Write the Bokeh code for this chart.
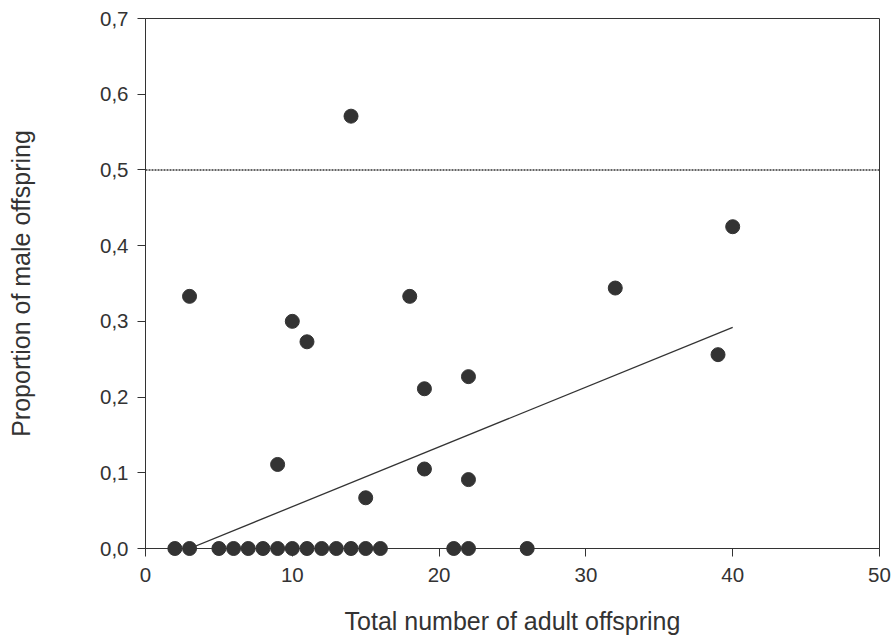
from bokeh.plotting import figure
from bokeh.models import FixedTicker, CustomJSTickFormatter, Range1d
from bokeh.embed import file_html
from bokeh.resources import INLINE

# Broods: total adult offspring vs. proportion of males
total_offspring = [2, 3, 5, 6, 7, 8, 9, 10, 11, 12, 13, 14, 15, 16, 21, 22, 26,
                   3, 14, 10, 11, 9, 18, 19, 19, 22, 22, 15, 32, 39, 40]
male_proportion = [0.0, 0.0, 0.0, 0.0, 0.0, 0.0, 0.0, 0.0, 0.0, 0.0, 0.0, 0.0,
                   0.0, 0.0, 0.0, 0.0, 0.0,
                   0.333, 0.571, 0.300, 0.273, 0.111, 0.333, 0.211, 0.105,
                   0.227, 0.091, 0.067, 0.344, 0.256, 0.425]

# Fitted regression line (end points)
fit_x = [3, 40]
fit_y = [0.0, 0.292]

# Equal sex ratio reference
even_x = [0, 50]
even_y = [0.5, 0.5]

x_ticks = [0, 10, 20, 30, 40, 50]
y_ticks = [0.0, 0.1, 0.2, 0.3, 0.4, 0.5, 0.6, 0.7]

INK = "#333333"
FONT = "Liberation Sans"

p = figure(width=895, height=638,
           x_range=Range1d(0, 50), y_range=Range1d(0, 0.7),
           output_backend="svg", toolbar_location=None,
           min_border_left=145, min_border_right=16,
           min_border_top=18, min_border_bottom=90)

p.background_fill_color = "white"
p.border_fill_color = "white"
p.outline_line_color = INK
p.outline_line_width = 1
p.xgrid.visible = False
p.ygrid.visible = False

p.line(even_x, even_y, line_color=INK, line_width=1.5, line_dash="2 1")
p.line(fit_x, fit_y, line_color=INK, line_width=1.3)
p.scatter(total_offspring, male_proportion, size=14,
          fill_color=INK, line_color=INK, level="overlay")

for ax in (p.xaxis[0], p.yaxis[0]):
    ax.axis_line_color = INK
    ax.axis_line_width = 1
    ax.major_tick_line_color = INK
    ax.major_tick_out = 8
    ax.major_tick_in = 0
    ax.minor_tick_line_color = None
    ax.major_label_text_font = FONT
    ax.major_label_text_font_size = "20.5px"
    ax.major_label_text_color = INK
    ax.axis_label_text_font = FONT
    ax.axis_label_text_font_size = "25px"
    ax.axis_label_text_font_style = "normal"
    ax.axis_label_text_color = INK

p.xaxis.ticker = FixedTicker(ticks=x_ticks)
p.yaxis.ticker = FixedTicker(ticks=y_ticks)
p.yaxis.formatter = CustomJSTickFormatter(code="return tick.toFixed(1).replace('.', ',');")

p.xaxis.axis_label = "Total number of adult offspring"
p.yaxis.axis_label = "Proportion of male offspring"
p.xaxis.major_label_standoff = 11
p.xaxis.axis_label_standoff = 22
p.yaxis.major_label_standoff = 9
p.yaxis.axis_label_standoff = 62

open("out.html", "w").write(file_html(p, INLINE))
